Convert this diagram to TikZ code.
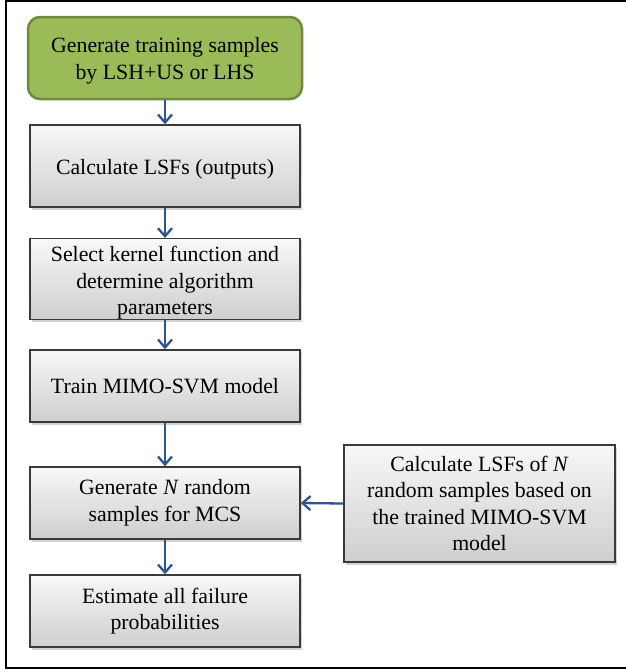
\documentclass[tikz,border=0pt]{standalone}
\usepackage{fontspec}
\setmainfont{Liberation Serif}
\usetikzlibrary{arrows.meta,shadows}
\definecolor{arrowblue}{HTML}{2A5592}
\definecolor{greenfill}{HTML}{9BBB59}
\definecolor{greenedge}{HTML}{71893F}
\definecolor{boxedge}{HTML}{3A3A3A}
\begin{document}
\begin{tikzpicture}[x=1pt,y=-1pt,
  every node/.style={font=\fontsize{21.8}{26.5}\selectfont, align=center, inner sep=0pt},
  graybox/.style={rectangle, draw=boxedge, line width=1.5pt, top color=gray!6, bottom color=gray!38,
     drop shadow={shadow xshift=2pt, shadow yshift=-2.5pt, opacity=0.35, fill=gray}},
  greenbox/.style={rectangle, rounded corners=12pt, draw=greenedge, line width=2.5pt, fill=greenfill},
  flow/.style={draw=arrowblue, line width=2.3pt, -{Straight Barb[length=8pt,width=14pt,line width=2.3pt]}}
]
\useasboundingbox (0,0) rectangle (626,672);
\draw[line width=2pt] (626,1) -- (6,1) -- (6,668) -- (626,668);

\node[greenbox, minimum width=274pt, minimum height=82pt] (g1) at (165,58)
  {\rule{0pt}{21pt}Generate training samples\\by LSH+US or LHS};
\node[graybox, minimum width=270pt, minimum height=82pt] (b2) at (165,166)
  {\rule{0pt}{21pt}Calculate LSFs (outputs)};
\node[graybox, minimum width=270pt, minimum height=72pt] (b3) at (165,279)
  {\rule{0pt}{23pt}Select kernel function and\\determine algorithm\\parameters};
\node[graybox, minimum width=270pt, minimum height=72pt] (b4) at (165,386)
  {Train MIMO-SVM model};
\node[graybox, minimum width=270pt, minimum height=72pt] (b5) at (165,503)
  {Generate \textit{N} random\\samples for MCS};
\node[graybox, minimum width=271pt, minimum height=117pt] (b6) at (479.5,503.5)
  {Calculate LSFs of \textit{N}\\random samples based on\\the trained MIMO-SVM\\model};
\node[graybox, minimum width=270pt, minimum height=72pt] (b7) at (165,611)
  {Estimate all failure\\probabilities};

\draw[flow] (g1) -- (b2);
\draw[flow] (b2) -- (b3);
\draw[flow] (b3) -- (b4);
\draw[flow] (b4) -- (b5);
\draw[flow] (b5) -- (b7);
\draw[flow] (b6.west) -- (b5.east);
\end{tikzpicture}
\end{document}
